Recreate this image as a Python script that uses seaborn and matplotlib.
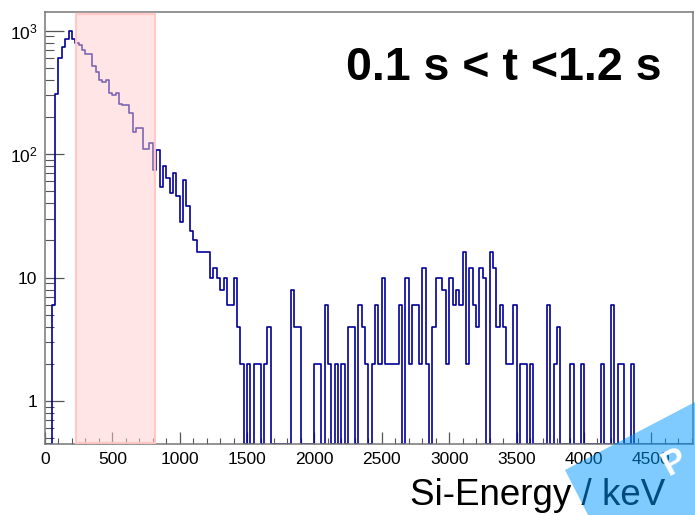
import numpy as np
import pandas as pd
import matplotlib
matplotlib.use("Agg")
import matplotlib.pyplot as plt
import seaborn as sns
from matplotlib.ticker import FixedLocator, MultipleLocator, LogLocator, NullFormatter, FixedFormatter
from matplotlib.patches import Rectangle, Polygon

# ---------------- data ----------------
bin_width_kev = 25
# counts per 25 keV bin, starting at 0 keV
counts = [
    0, 0, 6, 306, 598, 739, 860, 985, 853, 800,          # 0-250
    760, 700, 645, 640, 520, 465, 395, 385, 395, 312,    # 250-500
    300, 310, 255, 250, 250, 215, 152, 163, 163, 110,    # 500-750
    110, 122, 74, 107, 54, 80, 64, 48, 70, 46,           # 750-1000
    28, 62, 38, 24, 20, 16, 16, 16, 16, 10,              # 1000-1250
    12, 10, 8, 10, 6, 6, 10, 4, 2, 0,                    # 1250-1500
    2, 0, 2, 2, 0, 2, 4, 0, 0, 0,                        # 1500-1750
    0, 0, 0, 8, 4, 4, 0, 0, 0, 0,                        # 1750-2000
    2, 2, 0, 6, 2, 0, 2, 0, 2, 0,                        # 2000-2250
    4, 4, 0, 6, 4, 2, 0, 2, 6, 2,                        # 2250-2500
    10, 2, 2, 2, 2, 6, 0, 10, 2, 6,                      # 2500-2750
    6, 2, 12, 2, 0, 4, 10, 10, 8, 2,                     # 2750-3000
    10, 6, 8, 6, 16, 2, 12, 6, 4, 12,                    # 3000-3250
    10, 0, 16, 12, 4, 6, 4, 2, 2, 6,                     # 3250-3500
    0, 2, 2, 0, 2, 0, 0, 0, 0, 6,                        # 3500-3750
    0, 2, 4, 0, 0, 0, 2, 0, 0, 2,                        # 3750-4000
    0, 0, 0, 0, 0, 2, 0, 0, 6, 0,                        # 4000-4250
    2, 2, 0, 0, 2,                                       # 4250-4375
]
x_range_kev = [0, 4810]
y_range = [0.449, 1413]
window_kev = [230, 820]
window_top = 1361
x_tick_values = [0, 500, 1000, 1500, 2000, 2500, 3000, 3500, 4000, 4500]
x_tick_labels = ["0", "500", "1000", "1500", "2000", "2500", "3000", "3500", "4000", "4500"]
y_tick_values = [1, 10, 100, 1000]
y_tick_labels = ["1", "10", r"$10^{2}$", r"$10^{3}$"]
time_cut_text = "0.1 s < t <1.2 s"
x_label_text = "Si-Energy / keV"
watermark_text = "P"

# ---------------- figure ----------------
sns.set_theme(style="white")
plt.rcParams["font.family"] = ["Liberation Sans", "DejaVu Sans"]
plt.rcParams["mathtext.default"] = "regular"

W, H = 695, 515
fig = plt.figure(figsize=(W / 100, H / 100), dpi=100)
ax = fig.add_axes([45 / W, 71 / H, 648 / W, 432 / H])

n_bins = int(np.ceil(x_range_kev[1] / bin_width_kev))
vals = np.zeros(n_bins)
vals[: len(counts)] = counts
edges = np.arange(n_bins + 1) * bin_width_kev
plot_vals = np.maximum(np.append(vals, vals[-1]), y_range[0])
df = pd.DataFrame({"edge": edges, "count": plot_vals})

sns.lineplot(data=df, x="edge", y="count", drawstyle="steps-post",
             color="#000099", lw=1.2, estimator=None, sort=False, ax=ax, zorder=2)

ax.set_yscale("log")
ax.set_xlim(*x_range_kev)
ax.set_ylim(*y_range)
ax.set_xlabel("")
ax.set_ylabel("")

# highlighted window
rect = Rectangle((window_kev[0], y_range[0] * 1.01), window_kev[1] - window_kev[0],
                 window_top - y_range[0] * 1.01,
                 facecolor=(1, 0.8, 0.8, 0.5), edgecolor=(1, 0.78, 0.78, 0.95),
                 lw=1.6, zorder=3)
ax.add_patch(rect)

# ticks
ax.xaxis.set_major_locator(FixedLocator(x_tick_values))
ax.xaxis.set_major_formatter(FixedFormatter(x_tick_labels))
ax.xaxis.set_minor_locator(MultipleLocator(100))
ax.yaxis.set_major_locator(FixedLocator(y_tick_values))
ax.yaxis.set_major_formatter(FixedFormatter(y_tick_labels))
ax.yaxis.set_minor_locator(LogLocator(base=10, subs=np.arange(2, 10), numticks=20))
ax.yaxis.set_minor_formatter(NullFormatter())

tick_col = "#555555"
ax.tick_params(axis="x", which="major", direction="in", length=9, width=0.9,
               color=tick_col, labelsize=12.5, pad=5.5, labelcolor="black")
ax.tick_params(axis="x", which="minor", direction="in", length=4.5, width=0.8, color=tick_col)
ax.tick_params(axis="y", which="major", direction="in", length=14, width=0.9,
               color=tick_col, labelsize=12.5, pad=5.5, labelcolor="black")
ax.tick_params(axis="y", which="minor", direction="in", length=6.5, width=0.8, color=tick_col)
ax.tick_params(bottom=True, left=True, top=False, right=False, which="both")

for s in ax.spines.values():
    s.set_color("#777777")
    s.set_linewidth(1.1)
    s.set_visible(True)

# texts
fig.text(661 / W, 1 - 80 / H, time_cut_text, ha="right", va="baseline",
         fontsize=33.5, fontweight="bold", color="black")
fig.text(665 / W, 1 - 505 / H, x_label_text, ha="right", va="baseline",
         fontsize=26.5, color="black")

# watermark ribbon
pts = [(565, 470), (695, 402), (695, 515), (588, 515)]
poly = Polygon([(x / W, 1 - y / H) for x, y in pts], closed=True,
               transform=fig.transFigure, facecolor=(0.0, 0.6, 1.0, 0.5),
               edgecolor="none", zorder=10)
fig.patches.append(poly)
fig.text(674 / W, 1 - 462 / H, watermark_text, ha="center", va="center",
         rotation=28, fontsize=25, fontweight="bold", color="white", zorder=11)

fig.savefig("out.png", dpi=100)
